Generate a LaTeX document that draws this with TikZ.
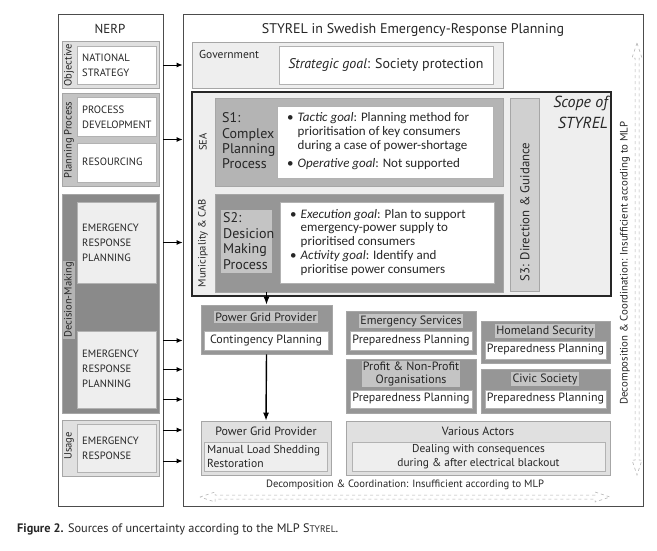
\documentclass[tikz,border=0pt]{standalone}
\usepackage{fontspec}
\setmainfont{PT Sans}
\newfontfamily\goalfont{Carlito}
\usetikzlibrary{fit,arrows.meta}
\definecolor{gpale}{HTML}{EEEEEE}
\definecolor{glight}{HTML}{E0E0E0}
\definecolor{gmid}{HTML}{C4C4C4}
\definecolor{gsea}{HTML}{B4B4B4}
\definecolor{gdark}{HTML}{969696}
\definecolor{gdeep}{HTML}{8A8A8A}
\newcommand{\fs}[2][0]{\fontsize{#2}{\ifdim#1pt=0pt #2\else #1\fi}\selectfont}

\begin{document}
\begin{tikzpicture}[x=1pt, y=-1pt,
  every node/.style={inner sep=0pt, text=black!85, font=\fs{12}},
  frame/.style={draw=black!70, line width=0.8pt, fill=white},
  grp/.style={draw=gray!70, line width=0.6pt, fill=#1},
  wbox/.style={draw=gray!60, line width=0.6pt, fill=#1},
  wbox/.default=white,
  caps/.style={align=left, anchor=west, font={\fs[15]{10.6}}},
  side/.style={rotate=90, font=\fs{10.6}},
  patch/.style={fill=gmid, inner sep=1.2pt},
  arr/.style={-{Latex[length=6pt,width=5pt]}, line width=0.9pt, black},
  bigarr/.style={-{Latex[length=8pt,width=6pt]}, line width=1.4pt, black},
  hollow/.style={draw=gray!60, dashed, line width=0.5pt}
]
\useasboundingbox (0,0) rectangle (657,550);

% NERP column
\node[frame, fit={(58,14) (163,506)}] (nerp) {};
\node[font=\fs{13}] (nerptitle) at (110,29) {NERP};
\node[grp=glight, fit={(62,41) (159,88)}] (objective) {};
\node[wbox, fit={(77,46) (156,84)}] (natl) {};
\node[caps] at (82,65) {NATIONAL\\STRATEGY};
\node[side] at (69,65) {Objective};

\node[grp=gmid, fit={(62,93) (159,186)}] (planning) {};
\node[wbox, fit={(77,97) (156,136)}] (procdev) {};
\node[caps] at (82,117) {PROCESS\\DEVELOPMENT};
\node[wbox, fit={(77,143) (156,182)}] (resourcing) {};
\node[caps] at (82,162) {RESOURCING};
\node[side] at (69,140) {Planning Process};

\node[grp=gdeep, fit={(62,194) (159,413)}] (decision) {};
\node[wbox=gpale, fit={(77,202) (156,283)}] (erpA) {};
\node[caps] at (82,243) {EMERGENCY\\RESPONSE\\PLANNING};
\node[wbox=gpale, fit={(77,331) (156,408)}] (erpB) {};
\node[caps] at (82,369) {EMERGENCY\\RESPONSE\\PLANNING};
\node[side, fill=gsea, inner sep=1.2pt] at (69,300) {Decision-Making};

\node[grp=glight, fit={(62,420) (159,476)}] (usage) {};
\node[wbox=gpale, fit={(77,424) (156,472)}] (response) {};
\node[caps] at (82,448) {EMERGENCY\\RESPONSE};
\node[side] at (69,446) {Usage};

% STYREL frame
\node[frame, fit={(183,14) (643,506)}] (styrel) {};
\node[font=\fs{14}] (styreltitle) at (413,30) {STYREL in Swedish Emergency-Response Planning};

\node[grp=gpale, fit={(192,42) (503,88)}] (gov) {};
\node[anchor=west, font=\fs{11.5}] at (199,54) {Government};
\node[wbox, fit={(279,46) (493,84)}] (strategic) {};
\node[font=\fs{14}] at (386,65) {\textit{Strategic goal}: Society protection};

\node[draw=black!85, line width=1.2pt, fill=gpale, fit={(192,92) (611,296)}] (scope) {};
\node[anchor=north east, align=right, font={\fs[21]{16}\itshape}] at (608,96) {Scope of\\STYREL};

\node[grp=gsea, fit={(215,98) (503,186)}] (sea) {};
\node[side] at (203,142) {SEA};
\node[anchor=west, align=left, font={\fs[15.3]{14}}] (s1) at (222,141) {S1:\\Complex\\Planning\\Process};
\node[wbox, fit={(277,106) (493,178)}] (s1goals) {};
\node[anchor=west, font={\goalfont\fs[14]{13}}] at (287,142) {%
  \begin{tabular}{@{}l@{\hspace{4pt}}l@{}}
  \textbullet & \textit{Tactic goal}: Planning method for\\
   & prioritisation of key consumers\\
   & during a case of power-shortage\\[4pt]
  \textbullet & \textit{Operative goal}: Not supported
  \end{tabular}};

\node[grp=gdark, fit={(215,194) (503,292)}] (s2grp) {};
\node[side] at (203,243) {Municipality \& CAB};
\node[fill=gmid, fit={(221,210) (272,273)}] (s2lab) {};
\node[anchor=west, align=left, font={\fs[15.8]{14}}] (s2) at (223,241) {S2:\\Desicion\\Making\\Process};
\node[wbox, fit={(280,202) (494,283)}] (s2goals) {};
\node[anchor=west, font={\goalfont\fs[13.6]{13}}] at (290,243) {%
  \begin{tabular}{@{}l@{\hspace{4pt}}l@{}}
  \textbullet & \textit{Execution goal}: Plan to support\\
   & emergency-power supply to\\
   & prioritised consumers\\[1pt]
  \textbullet & \textit{Activity goal}: Identify and\\
   & prioritise power consumers
  \end{tabular}};

\node[grp=gmid!80, fit={(510,98) (539,291)}] (s3) {};
\node[side, font=\fs{12.8}] at (525,212) {S3: Direction \& Guidance};

% actors
\node[grp=gdark, fit={(201,305) (332,354)}] (pgpA) {};
\node[patch] at (266,317) {Power Grid Provider};
\node[wbox, fit={(204,331) (328,350)}] (contingency) {};
\node at (contingency) {Contingency Planning};

\node[grp=gdark, fit={(346,311) (476,354)}] (ems) {};
\node[patch] at (411,321) {Emergency Services};
\node[wbox, fit={(350,331) (472,350)}] (emsplan) {};
\node at (emsplan) {Preparedness Planning};

\node[grp=gdark, fit={(481,321) (610,363)}] (hls) {};
\node[patch] at (545,331) {Homeland Security};
\node[wbox, fit={(485,341) (606,359)}] (hlsplan) {};
\node at (hlsplan) {Preparedness Planning};

\node[grp=gdark, fit={(346,359) (476,413)}] (pnp) {};
\node[patch, align=center, font={\fs[13]{12}}] at (411,374) {Profit \& Non-Profit\\Organisations};
\node[wbox, fit={(350,390) (472,408)}] (pnpplan) {};
\node at (pnpplan) {Preparedness Planning};

\node[grp=gdark, fit={(481,369) (610,413)}] (civ) {};
\node[patch] at (545,379) {Civic Society};
\node[wbox, fit={(485,390) (606,408)}] (civplan) {};
\node at (civplan) {Preparedness Planning};

\node[grp=glight, fit={(201,421) (331,475)}] (pgpB) {};
\node at (266,431) {Power Grid Provider};
\node[wbox=gpale, fit={(204,442) (327,471)}] (shedding) {};
\node[anchor=west, align=left, font={\fs[14]{11.6}}] at (207,456) {Manual Load Shedding\\Restoration};

\node[grp=glight, fit={(346,421) (610,475)}] (actors) {};
\node at (478,431) {Various Actors};
\node[wbox=gpale, fit={(352,442) (605,471)}] (consequences) {};
\node[align=center, font={\fs[14]{11.4}}] at (consequences) {Dealing with consequences\\during \& after electrical blackout};

% coordination notes
\node[font=\fs{10.6}] (hnote) at (405,485) {Decomposition \& Coordination: Insufficient according to MLP};
\node[side, font=\fs{10.8}] (vnote) at (625,263) {Decomposition \& Coordination: Insufficient according to MLP};
\draw[hollow] (200,497) -- (215,492) -- (215,495) -- (595,495) -- (595,492) -- (610,497)
  -- (595,502) -- (595,499) -- (215,499) -- (215,502) -- cycle;
\draw[hollow] (637,43) -- (632,58) -- (635,58) -- (635,460) -- (632,460) -- (637,475)
  -- (642,460) -- (639,460) -- (639,58) -- (642,58) -- cycle;

% arrows
\draw[arr] (nerp.east |- natl) -- (styrel.west |- natl);
\draw[arr] (nerp.east |- planning) -- (styrel.west |- planning);
\draw[arr] (nerp.east |- erpA) -- (styrel.west |- erpA);
\foreach \dy in {29,0,-30}
  \draw[arr] ([yshift=\dy pt]nerp.east |- erpB) -- ([yshift=\dy pt]styrel.west |- erpB);
\foreach \dy in {18,-13}
  \draw[arr] ([yshift=\dy pt]nerp.east |- usage) -- ([yshift=\dy pt]styrel.west |- usage);
\draw[bigarr] (pgpA.north |- s2grp.south) -- (pgpA.north);
\draw[bigarr] (pgpA.south) -- (pgpB.north);

% caption
\node[anchor=west, font=\fs{12.3}] (caption) at (17,529)
  {\textbf{Figure 2.} Sources of uncertainty according to the MLP S{\fs{9.5}TYREL}.};
\end{tikzpicture}
\end{document}
